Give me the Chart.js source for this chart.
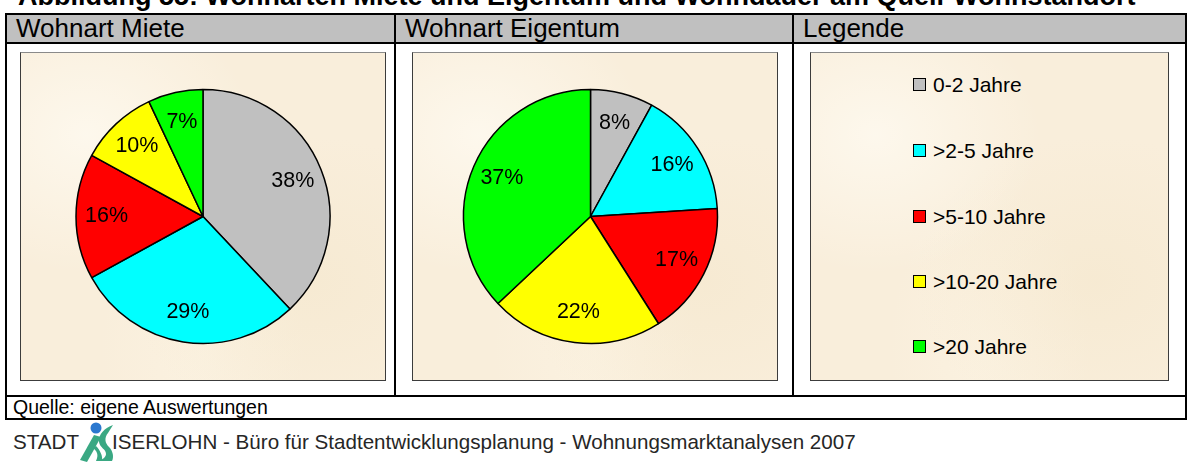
<!DOCTYPE html>
<html lang="de">
<head>
<meta charset="utf-8">
<script src="https://cdn.jsdelivr.net/npm/chart.js@4/dist/chart.umd.min.js"></script>
<style>
  body { margin: 0; background: #fff; font-family: "Liberation Sans", Arial, sans-serif; color: #000; }
  #page { position: relative; width: 1187px; height: 468px; overflow: hidden; }
  .title { position: absolute; left: 18px; top: -19px; font-weight: bold; font-size: 27px; line-height: 30px; white-space: nowrap; }
  .head { position: absolute; left: 7px; top: 15px; width: 1178px; height: 27px; background: #c0c0c0; }
  .htext { position: absolute; top: 14px; font-size: 26px; line-height: 29px; white-space: nowrap; }
  .line { position: absolute; background: #000; }
  .panel {
    position: absolute; top: 52px; height: 329px; box-sizing: border-box;
    border: 1px solid #3c3c3c; border-top-color: #8a8a8a;
    background:
      radial-gradient(ellipse at 18% 25%, rgba(255,252,244,0.7), rgba(255,252,244,0) 40%),
      radial-gradient(ellipse at 80% 70%, rgba(243,229,200,0.45), rgba(243,229,200,0) 45%),
      radial-gradient(ellipse at 50% 90%, rgba(252,244,228,0.6), rgba(252,244,228,0) 40%),
      #f9eedb;
  }
  .panel canvas { position: absolute; left: 0; top: 0; }
  .legend-item { position: absolute; left: 913px; height: 22px; font-size: 21px; line-height: 22px; white-space: nowrap; }
  .legend-item span.box {
    position: absolute; left: 0; top: 4px; width: 11px; height: 11px;
    border: 1.5px solid #000;
  }
  .legend-item span.txt { position: absolute; left: 20px; top: 0; }
  .source { position: absolute; left: 13px; top: 397px; font-size: 19.5px; line-height: 21px; white-space: nowrap; }
  .footer { position: absolute; top: 430px; font-size: 20.6px; line-height: 24px; color: #262626; white-space: nowrap; }
</style>
</head>
<body>
<div id="page">
  <div class="title">Abbildung 55: Wohnarten Miete und Eigentum und Wohndauer am Quell-Wohnstandort</div>

  <div class="head"></div>
  <div class="htext" style="left:16px">Wohnart Miete</div>
  <div class="htext" style="left:405px">Wohnart Eigentum</div>
  <div class="htext" style="left:803px">Legende</div>

  <!-- table rules -->
  <div class="line" style="left:5px; top:13px; width:1182px; height:2px"></div>
  <div class="line" style="left:5px; top:42px; width:1182px; height:2px"></div>
  <div class="line" style="left:5px; top:395px; width:1182px; height:2px"></div>
  <div class="line" style="left:5px; top:418px; width:1182px; height:2px"></div>
  <div class="line" style="left:5px; top:13px; width:2px; height:407px"></div>
  <div class="line" style="left:394px; top:13px; width:2px; height:384px"></div>
  <div class="line" style="left:792px; top:13px; width:2px; height:384px"></div>
  <div class="line" style="left:1185px; top:13px; width:2px; height:407px"></div>

  <div class="panel" style="left:20px; width:366px"><canvas id="pieMiete" width="364" height="327"></canvas></div>
  <div class="panel" style="left:412px; width:366px"><canvas id="pieEigentum" width="364" height="327"></canvas></div>
  <div class="panel" style="left:810px; width:359px"></div>
  <div id="legend"></div>

  <div class="source">Quelle: eigene Auswertungen</div>

  <div class="footer" style="left:13px">STADT</div>
  <!-- city emblem -->
  <svg style="position:absolute; left:79px; top:420px" width="38" height="46" viewBox="0 0 38 46">
    <circle cx="17" cy="8" r="5.5" fill="#2b78cf"/>
    <path d="M1 40 L15 15 L22 17 L8 42 Z" fill="#3aa883"/>
    <path d="M34 5 C26 8 19 14 20 22 C21 28 27 29 27 34 C27 37 24 39 20 41 L33 41 C35 37 34 31 30 27 C26 23 25 18 29 13 Z" fill="#3aa883"/>
    <path d="M14 28 C18 31 20 35 17 41 L23 41 C24 36 21 30 17 26 Z" fill="#3aa883"/>
  </svg>
  <div class="footer" style="left:112px">ISERLOHN - Büro für Stadtentwicklungsplanung - Wohnungsmarktanalysen 2007</div>
</div>

<script>
// Wohndauer classes and shares (percent) per Wohnart
const categories = ['0-2 Jahre', '>2-5 Jahre', '>5-10 Jahre', '>10-20 Jahre', '>20 Jahre'];
const miete = [38, 29, 16, 10, 7];
const eigentum = [8, 16, 17, 22, 37];

const sliceColors = ['#c0c0c0', '#00ffff', '#ff0000', '#ffff00', '#00ff00'];
const legendRows = [85, 151, 217, 282, 347];

// writes the percent value inside each slice
const pctLabels = {
  id: 'pctLabels',
  afterDatasetsDraw(chart) {
    const ctx = chart.ctx;
    const values = chart.data.datasets[0].data;
    ctx.save();
    ctx.font = '21.5px "Liberation Sans", Arial, sans-serif';
    ctx.fillStyle = '#000';
    ctx.textAlign = 'center';
    ctx.textBaseline = 'middle';
    chart.getDatasetMeta(0).data.forEach(function (arc, i) {
      const p = arc.getProps(['x', 'y', 'startAngle', 'endAngle', 'outerRadius']);
      const mid = (p.startAngle + p.endAngle) / 2;
      const r = p.outerRadius * 0.76;
      ctx.fillText(values[i] + '%', p.x + Math.cos(mid) * r, p.y + Math.sin(mid) * r);
    });
    ctx.restore();
  }
};

function makePie(id, values, padRight) {
  return new Chart(document.getElementById(id), {
    type: 'pie',
    data: {
      labels: categories,
      datasets: [{
        data: values,
        backgroundColor: sliceColors,
        borderColor: '#000',
        borderWidth: 1.5,
        radius: 127
      }]
    },
    options: {
      responsive: false,
      animation: false,
      layout: { padding: { right: padRight } },
      plugins: {
        legend: { display: false },
        tooltip: { enabled: false }
      }
    },
    plugins: [pctLabels]
  });
}

makePie('pieMiete', miete, 0);
makePie('pieEigentum', eigentum, 9);

// legend column built from the same categories and colours
var legend = document.getElementById('legend');
categories.forEach(function (name, i) {
  var item = document.createElement('div');
  item.className = 'legend-item';
  item.style.top = (legendRows[i] - 11) + 'px';
  item.innerHTML = '<span class="box" style="background:' + sliceColors[i] + '"></span><span class="txt"></span>';
  item.querySelector('.txt').textContent = name;
  legend.appendChild(item);
});
</script>
</body>
</html>
